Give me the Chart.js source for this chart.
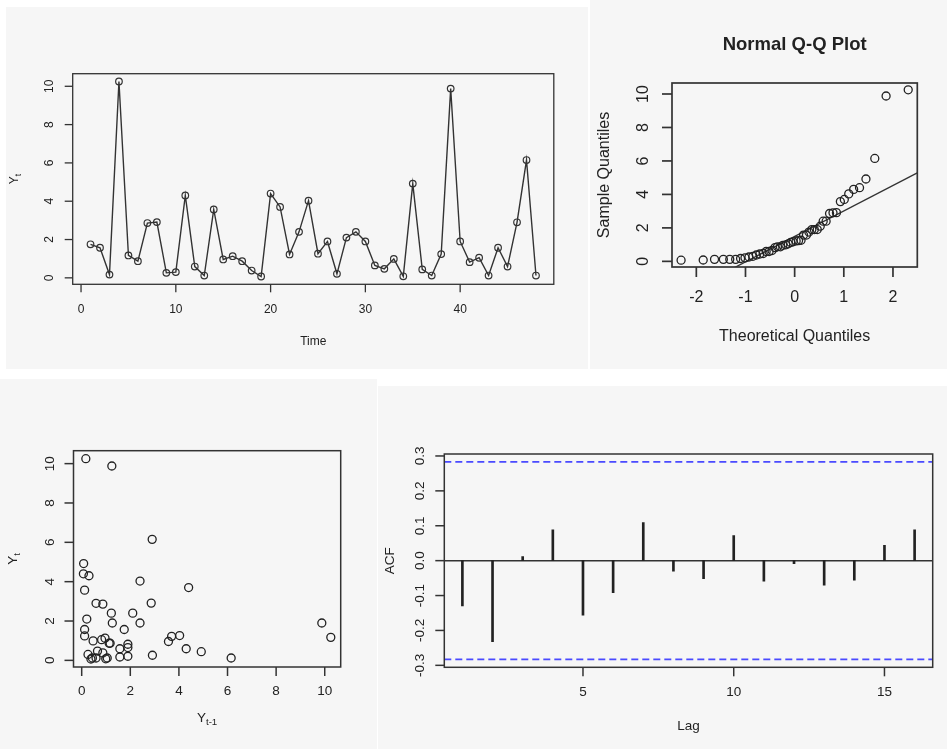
<!DOCTYPE html>
<html>
<head>
<meta charset="utf-8">
<script src="https://cdn.jsdelivr.net/npm/chart.js@4.4.1/dist/chart.umd.min.js"></script>
<style>
  body { margin: 0; background: #fff; }
  .panel { position: absolute; background: #f6f6f6; }
  canvas { display: block; }
</style>
</head>
<body>
<div class="panel" style="left:6px;top:7px;width:582px;height:362px"><canvas id="tsChart" width="582" height="362"></canvas></div>
<div class="panel" style="left:590px;top:0px;width:357px;height:369px"><canvas id="qqChart" width="357" height="369"></canvas></div>
<div class="panel" style="left:0px;top:379px;width:377px;height:370px"><canvas id="lagChart" width="377" height="370"></canvas></div>
<div class="panel" style="left:378px;top:386px;width:569px;height:363px"><canvas id="acfChart" width="569" height="363"></canvas></div>
<script>
// values
var yValues = [1.75, 1.57, 0.17, 10.25, 1.17, 0.87, 2.86, 2.91, 0.26, 0.30,
               4.30, 0.59, 0.12, 3.57, 0.96, 1.13, 0.87, 0.38, 0.07, 4.40,
               3.70, 1.22, 2.40, 4.03, 1.26, 1.90, 0.21, 2.10, 2.40, 1.90,
               0.65, 0.47, 0.99, 0.08, 4.92, 0.44, 0.12, 1.24, 9.88, 1.90,
               0.82, 1.05, 0.12, 1.57, 0.59, 2.90, 6.15, 0.12];
var theoQuantiles = [-2.31, -1.86, -1.63, -1.45, -1.32, -1.20, -1.10, -1.01, -0.93, -0.85,
                     -0.78, -0.71, -0.64, -0.58, -0.52, -0.46, -0.40, -0.35, -0.29, -0.24,
                     -0.18, -0.13, -0.08, -0.03, 0.03, 0.08, 0.13, 0.18, 0.24, 0.29,
                     0.35, 0.40, 0.46, 0.52, 0.58, 0.64, 0.71, 0.78, 0.85, 0.93,
                     1.01, 1.10, 1.20, 1.32, 1.45, 1.63, 1.86, 2.31];
var acfLags = [1, 2, 3, 4, 5, 6, 7, 8, 9, 10, 11, 12, 13, 14, 15, 16];
var acfValues = [-0.130, -0.232, 0.012, 0.088, -0.156, -0.092, 0.109, -0.030,
                 -0.052, 0.072, -0.059, -0.009, -0.070, -0.056, 0.044, 0.088];
var acfBound = 0.283;
var qZ = 0.6745; // normal quartile used by qqline

var tsXTicks = [0, 10, 20, 30, 40];
var tsYTicks = [0, 2, 4, 6, 8, 10];
var qqXTicks = [-2, -1, 0, 1, 2];
var qqYTicks = [0, 2, 4, 6, 8, 10];
var lagXTicks = [0, 2, 4, 6, 8, 10];
var lagYTicks = [0, 2, 4, 6, 8, 10];
var acfXTicks = [5, 10, 15];
var acfYTicks = [-0.3, -0.2, -0.1, 0, 0.1, 0.2, 0.3];
var acfYLabels = ['-0.3', '-0.2', '-0.1', '0.0', '0.1', '0.2', '0.3'];

var FONT = '"Liberation Sans", Arial, sans-serif';
var INK = '#222';

// R style axis limits: data range widened by 4%
function rLim(arr) {
  var lo = Math.min.apply(null, arr), hi = Math.max.apply(null, arr);
  var d = (hi - lo) * 0.04;
  return [lo - d, hi + d];
}

function quantile7(sorted, p) {
  var h = (sorted.length - 1) * p;
  var lo = Math.floor(h);
  return sorted[lo] + (h - lo) * (sorted[Math.min(lo + 1, sorted.length - 1)] - sorted[lo]);
}

function drawText(ctx, parts, x, y, rot, size, bold) {
  ctx.save();
  ctx.translate(x, y);
  ctx.rotate(rot);
  ctx.textBaseline = 'middle';
  ctx.textAlign = 'left';
  var w = 0, i;
  for (i = 0; i < parts.length; i++) {
    var s = parts[i].sub ? size * 0.72 : size;
    ctx.font = (bold ? 'bold ' : '') + s + 'px ' + FONT;
    parts[i].w = ctx.measureText(parts[i].t).width;
    w += parts[i].w;
  }
  var cx = -w / 2;
  for (i = 0; i < parts.length; i++) {
    var s2 = parts[i].sub ? size * 0.72 : size;
    ctx.font = (bold ? 'bold ' : '') + s2 + 'px ' + FONT;
    ctx.fillText(parts[i].t, cx, parts[i].sub ? size * 0.3 : 0);
    cx += parts[i].w;
  }
  ctx.restore();
}

// box, ticks and labels the way R draws them
function rAxes(cfg) {
  return {
    id: 'rAxes',
    afterDraw: function(chart) {
      var ctx = chart.ctx, a = chart.chartArea;
      var xs = chart.scales.x, ys = chart.scales.y;
      ctx.save();
      ctx.strokeStyle = '#333';
      ctx.lineWidth = cfg.lw;
      ctx.strokeRect(a.left, a.top, a.right - a.left, a.bottom - a.top);
      ctx.fillStyle = INK;
      cfg.xTicks.forEach(function(v, i) {
        var px = xs.getPixelForValue(v);
        ctx.beginPath(); ctx.moveTo(px, a.bottom); ctx.lineTo(px, a.bottom + cfg.tick); ctx.stroke();
        drawText(ctx, [{t: cfg.xLabels ? cfg.xLabels[i] : String(v)}], px, a.bottom + cfg.xLabOff, 0, cfg.font);
      });
      cfg.yTicks.forEach(function(v, i) {
        var py = ys.getPixelForValue(v);
        ctx.beginPath(); ctx.moveTo(a.left, py); ctx.lineTo(a.left - cfg.tick, py); ctx.stroke();
        drawText(ctx, [{t: cfg.yLabels ? cfg.yLabels[i] : String(v)}], a.left - cfg.yLabOff, py, -Math.PI / 2, cfg.font);
      });
      drawText(ctx, cfg.xTitle, (a.left + a.right) / 2, a.bottom + cfg.xTitleOff, 0, cfg.font);
      drawText(ctx, cfg.yTitle, a.left - cfg.yTitleOff, (a.top + a.bottom) / 2, -Math.PI / 2, cfg.font);
      if (cfg.title) {
        drawText(ctx, [{t: cfg.title}], (a.left + a.right) / 2, a.top - cfg.titleOff, 0, cfg.titleFont, true);
      }
      ctx.restore();
    }
  };
}

function baseOptions(pad, xLim, yLim) {
  return {
    responsive: false,
    animation: false,
    events: [],
    layout: { padding: pad },
    plugins: { legend: { display: false }, tooltip: { enabled: false } },
    scales: {
      x: { type: 'linear', display: false, offset: false, min: xLim[0], max: xLim[1] },
      y: { type: 'linear', display: false, min: yLim[0], max: yLim[1] }
    }
  };
}

// 1. time series plot
var tsPoints = yValues.map(function(v, i) { return { x: i + 1, y: v }; });
new Chart(document.getElementById('tsChart'), {
  type: 'line',
  data: { datasets: [{
    data: tsPoints,
    borderColor: '#333', borderWidth: 1.4,
    pointRadius: 3.3, pointBorderWidth: 1.2,
    pointBorderColor: '#333', pointBackgroundColor: 'rgba(0,0,0,0)',
    tension: 0
  }] },
  options: baseOptions({ left: 66.7, top: 66.7, right: 34.2, bottom: 84.7 },
                       rLim([1, yValues.length]), rLim(yValues)),
  plugins: [rAxes({
    lw: 1.3, tick: 8, font: 12,
    xTicks: tsXTicks, yTicks: tsYTicks,
    xLabOff: 25.7, xTitleOff: 57.7, yLabOff: 23.4, yTitleOff: 57.7,
    xTitle: [{t: 'Time'}], yTitle: [{t: 'Y'}, {t: 't', sub: true}]
  })]
});

// 2. normal Q-Q plot
var sortedY = yValues.slice().sort(function(a, b) { return a - b; });
var qqPoints = sortedY.map(function(v, i) { return { x: theoQuantiles[i], y: v }; });
var q1 = quantile7(sortedY, 0.25), q3 = quantile7(sortedY, 0.75);
var qqSlope = (q3 - q1) / (2 * qZ);
var qqInt = q1 + qZ * qqSlope;
var qqX = rLim(theoQuantiles);
new Chart(document.getElementById('qqChart'), {
  type: 'scatter',
  data: { datasets: [{
    data: qqPoints,
    pointRadius: 4, pointBorderWidth: 1.3,
    pointBorderColor: INK, pointBackgroundColor: 'rgba(0,0,0,0)'
  }, {
    type: 'line',
    data: [{ x: qqX[0], y: qqInt + qqSlope * qqX[0] }, { x: qqX[1], y: qqInt + qqSlope * qqX[1] }],
    borderColor: '#333', borderWidth: 1.3, pointRadius: 0
  }] },
  options: baseOptions({ left: 82, top: 83, right: 29.7, bottom: 102 }, qqX, rLim(yValues)),
  plugins: [rAxes({
    lw: 1.7, tick: 10, font: 16, titleFont: 18.5, titleOff: 38,
    xTicks: qqXTicks, yTicks: qqYTicks,
    xLabOff: 31, xTitleOff: 69.7, yLabOff: 28.7, yTitleOff: 67,
    title: 'Normal Q-Q Plot',
    xTitle: [{t: 'Theoretical Quantiles'}], yTitle: [{t: 'Sample Quantiles'}]
  })]
});

// 3. lag plot Y(t) against Y(t-1)
var prevY = yValues.slice(0, -1), nextY = yValues.slice(1);
var lagPoints = prevY.map(function(v, i) { return { x: v, y: nextY[i] }; });
new Chart(document.getElementById('lagChart'), {
  type: 'scatter',
  data: { datasets: [{
    data: lagPoints,
    pointRadius: 4, pointBorderWidth: 1.3,
    pointBorderColor: INK, pointBackgroundColor: 'rgba(0,0,0,0)'
  }] },
  options: baseOptions({ left: 73.5, top: 71.7, right: 36.3, bottom: 82 }, rLim(prevY), rLim(nextY)),
  plugins: [rAxes({
    lw: 1.5, tick: 9, font: 13.5,
    xTicks: lagXTicks, yTicks: lagYTicks,
    xLabOff: 24, xTitleOff: 51, yLabOff: 23.5, yTitleOff: 60,
    xTitle: [{t: 'Y'}, {t: 't-1', sub: true}], yTitle: [{t: 'Y'}, {t: 't', sub: true}]
  })]
});

// 4. sample ACF
var acfX = rLim(acfLags);
var acfY = rLim(acfValues.concat([-acfBound, acfBound]));
new Chart(document.getElementById('acfChart'), {
  type: 'bar',
  data: { datasets: [{
    data: acfLags.map(function(l, i) { return { x: l, y: acfValues[i] }; }),
    backgroundColor: INK, barThickness: 2
  }, {
    type: 'line',
    data: [{ x: acfX[0], y: 0 }, { x: acfX[1], y: 0 }],
    borderColor: '#333', borderWidth: 1.5, pointRadius: 0
  }, {
    type: 'line',
    data: [{ x: acfX[0], y: acfBound }, { x: acfX[1], y: acfBound }],
    borderColor: '#4a4aff', borderWidth: 1.8, borderDash: [7, 4], pointRadius: 0
  }, {
    type: 'line',
    data: [{ x: acfX[0], y: -acfBound }, { x: acfX[1], y: -acfBound }],
    borderColor: '#4a4aff', borderWidth: 1.8, borderDash: [7, 4], pointRadius: 0
  }] },
  options: baseOptions({ left: 66.3, top: 68, right: 14.3, bottom: 81.7 }, acfX, acfY),
  plugins: [rAxes({
    lw: 1.5, tick: 9, font: 13.5,
    xTicks: acfXTicks, yTicks: acfYTicks, yLabels: acfYLabels,
    xLabOff: 25.4, xTitleOff: 58.7, yLabOff: 24.3, yTitleOff: 54.3,
    xTitle: [{t: 'Lag'}], yTitle: [{t: 'ACF'}]
  })]
});
</script>
</body>
</html>
